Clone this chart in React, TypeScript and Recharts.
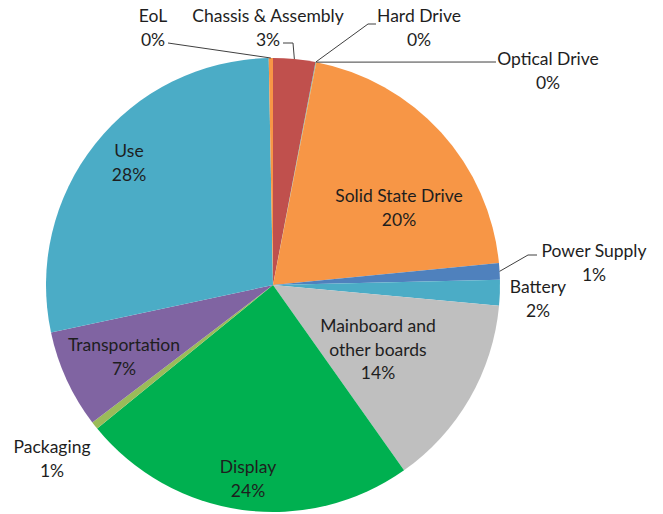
import React from "react";
import { PieChart, Pie, Cell } from "recharts";

// footprint shares, clockwise from 12 o'clock
const CATEGORIES = [
  "Chassis & Assembly",
  "Hard Drive",
  "Optical Drive",
  "Solid State Drive",
  "Power Supply",
  "Battery",
  "Mainboard and other boards",
  "Display",
  "Packaging",
  "Transportation",
  "Use",
  "EoL",
];
const SHARES = [3.0, 0.03, 0.03, 20.4, 1.17, 1.83, 13.75, 23.9, 0.55, 7.0, 28.05, 0.3];
const COLORS = [
  "#C0504D", "#4F81BD", "#9BBB59", "#F79646", "#4F81BD", "#4BACC6",
  "#BFBFBF", "#00B050", "#9BBB59", "#8064A2", "#4BACC6", "#F79646",
];

// label text split onto lines
const LABEL_LINES: Record<string, string[]> = {
  "Mainboard and other boards": ["Mainboard and", "other boards"],
};

// label layout: centre x, first baseline y, optional leader anchor points
type LabelPos = { x: number; y: number; leader?: [number, number][] };
const LABEL_POS: LabelPos[] = [
  { x: 268, y: 22, leader: [[283, 43], [293, 43]] },
  { x: 419, y: 22, leader: [[376, 24], [368, 24]] },
  { x: 548, y: 65, leader: [[496, 62]] },
  { x: 399, y: 202 },
  { x: 594, y: 257, leader: [[537, 255], [528, 255]] },
  { x: 538, y: 293 },
  { x: 378, y: 332 },
  { x: 248, y: 473 },
  { x: 52, y: 453 },
  { x: 124, y: 351 },
  { x: 129, y: 157 },
  { x: 153, y: 22, leader: [[168, 43]] },
];

const data = CATEGORIES.map((name, i) => ({ name, value: SHARES[i] }));
const total = SHARES.reduce((a, b) => a + b, 0);
const RAD = Math.PI / 180;
const LINE_H = 23.5;

function renderLabel(props: any) {
  const { index, cx, cy, midAngle, outerRadius, value, name } = props;
  const pos = LABEL_POS[index];
  const lines = [...(LABEL_LINES[name] ?? [name]), `${Math.round((value / total) * 100)}%`];
  let leader = null;
  if (pos.leader) {
    const ex = cx + outerRadius * Math.cos(-midAngle * RAD);
    const ey = cy + outerRadius * Math.sin(-midAngle * RAD);
    const pts = [...pos.leader, [ex, ey]].map((p) => p.join(",")).join(" ");
    leader = <polyline points={pts} fill="none" stroke="#404040" strokeWidth={1} />;
  }
  return (
    <g key={`lbl-${index}`}>
      {leader}
      <text
        x={pos.x}
        y={pos.y}
        textAnchor="middle"
        fontFamily="Lato, 'Open Sans', sans-serif"
        fontSize={17.5}
        fill="#1e1e1e"
      >
        {lines.map((ln, i) => (
          <tspan key={i} x={pos.x} y={pos.y + i * LINE_H}>
            {ln}
          </tspan>
        ))}
      </text>
    </g>
  );
}

export default function App() {
  return (
    <div style={{ position: "absolute", left: 0, top: 0, width: 663, height: 514, background: "#fff" }}>
      <PieChart width={663} height={514} margin={{ top: 0, right: 0, bottom: 0, left: 0 }}>
        <Pie
          data={data}
          dataKey="value"
          nameKey="name"
          cx={273}
          cy={285}
          outerRadius={227}
          startAngle={90}
          endAngle={-270}
          stroke="none"
          label={renderLabel}
          labelLine={false}
          isAnimationActive={false}
        >
          {data.map((entry, index) => (
            <Cell key={`cell-${index}`} fill={COLORS[index]} />
          ))}
        </Pie>
      </PieChart>
    </div>
  );
}
